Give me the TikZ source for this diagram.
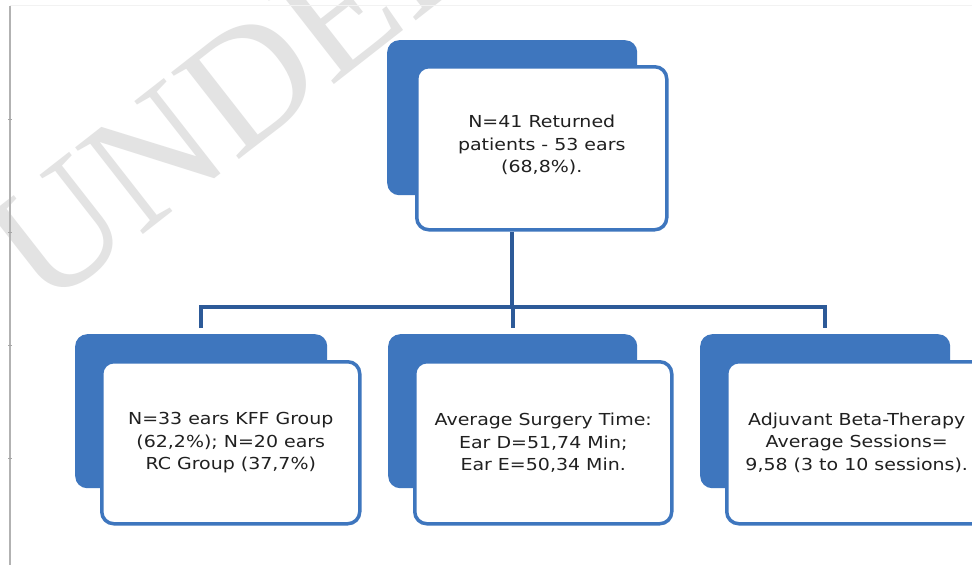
\documentclass[tikz,border=0pt]{standalone}
\usepackage{fontspec}
\newfontfamily\boxfont[FakeStretch=1.15]{DejaVu Sans}
\newfontfamily\wmfont{Liberation Serif}
\definecolor{boxblue}{HTML}{3E76BE}
\definecolor{linkblue}{HTML}{2D5A98}
\definecolor{txt}{HTML}{202020}
\begin{document}
\begin{tikzpicture}[x=1pt,y=-1pt,
  backbox/.style={fill=boxblue, rounded corners=12pt, inner sep=0pt, anchor=north west},
  frontbox/.style={draw=boxblue, line width=3.5pt, fill=white, rounded corners=12pt, inner sep=0pt, anchor=north west},
  boxlabel/.style={font=\boxfont\fontsize{16.5}{22.5}\selectfont, text=txt, align=center},
  link/.style={draw=linkblue, line width=4pt},
  wmark/.style={rotate=38, anchor=base west, text=gray!22, inner sep=0pt, font=\wmfont\fontsize{168}{168}\selectfont}]
\useasboundingbox (0,0) rectangle (972,565);
\clip (0,0) rectangle (972,565);
\fill[white] (0,0) rectangle (972,565);
% watermark
\node[wmark] (wm) at (44,312) {UNDER};
% left rule
\draw[gray!10, line width=0.8pt] (10,5) -- (972,5);
\draw[gray!60, line width=1.5pt] (10,6) -- (10,565);
\foreach \yy in {119,232,345,458} \draw[gray!70, line width=0.8pt] (8,\yy) -- (12,\yy);
% top box
\node[backbox, minimum width=250pt, minimum height=155pt] (b0) at (387,40) {};
\node[frontbox, minimum width=250pt, minimum height=163pt] (f0) at (415,65) {};
\node[boxlabel] (t0) at ([yshift=3pt]f0.center) {N=41 Returned\\patients - 53 ears\\(68,8\%).};
% bottom boxes
\node[backbox, minimum width=252pt, minimum height=154pt] (b1) at (75,334) {};
\node[frontbox, minimum width=258pt, minimum height=162pt] (f1) at (100,360) {};
\node[boxlabel] (t1) at (f1.center) {N=33 ears KFF Group\\(62,2\%); N=20 ears\\RC Group (37,7\%)};
\node[backbox, minimum width=249pt, minimum height=154pt] (b2) at (388,334) {};
\node[frontbox, minimum width=257pt, minimum height=162pt] (f2) at (413,360) {};
\node[boxlabel] (t2) at (f2.center) {Average Surgery Time:\\Ear D=51,74 Min;\\Ear E=50,34 Min.};
\node[backbox, minimum width=250pt, minimum height=154pt] (b3) at (700,334) {};
\node[frontbox, minimum width=260pt, minimum height=162pt] (f3) at (725,360) {};
\node[boxlabel] (t3) at (f3.center) {Adjuvant Beta-Therapy\\Average Sessions=\\9,58 (3 to 10 sessions).};
% connectors
\coordinate (j) at (513,307);
\draw[link] (b0.south |- f0.south) -- (b0.south |- j);
\draw[link] ([yshift=6pt]b1.north) -- (b1.north |- j) -- (b3.north |- j) -- ([yshift=6pt]b3.north);
\draw[link] (b2.north |- j) -- ([yshift=6pt]b2.north);
\end{tikzpicture}
\end{document}
